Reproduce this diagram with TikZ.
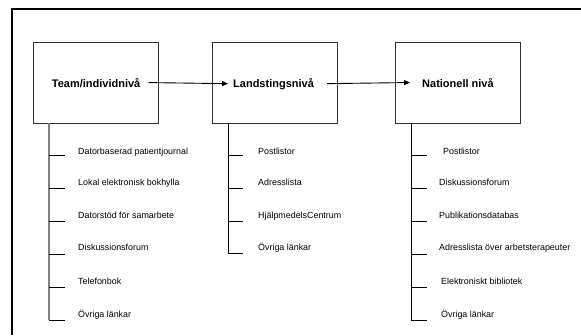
\documentclass[tikz,border=0pt]{standalone}
\usepackage{fontspec}
\setmainfont{Liberation Sans}
\usetikzlibrary{arrows.meta}
\begin{document}
\begin{tikzpicture}[x=1pt,y=-1pt,
  levelbox/.style={draw=black!80,line width=0.9pt,minimum width=125pt,minimum height=81pt,inner sep=0pt,anchor=north west},
  title/.style={font=\fontsize{11}{12}\selectfont\bfseries,inner sep=0pt,anchor=base west},
  item/.style={font=\fontsize{8.9}{10}\selectfont,inner sep=0pt,anchor=base west},
  spine/.style={line width=0.9pt,draw=black},
  tick/.style={line width=0.9pt,draw=black},
  flow/.style={line width=0.9pt,-{Triangle[length=6pt,width=5pt]}}]
\useasboundingbox (0,0) rectangle (581,335);
% outer frame (cropped)
\draw[line width=2pt] (11.5,335) -- (11.5,8.5) -- (581,8.5);
% boxes
\node[levelbox] (b1) at (33,42) {};
\node[levelbox] (b2) at (212,42) {};
\node[levelbox] (b3) at (395,42) {};
% titles
\node[title] (t1) at (51.7,87) {Team/individnivå};
\node[title] (t2) at (233,87) {Landstingsnivå};
\node[title] (t3) at (422,87) {Nationell nivå};
\draw[flow] ([xshift=8pt]t1.east) -- ([xshift=-5pt]t2.west);
\draw[flow] ([xshift=13pt]t2.east) -- ([xshift=-12pt]t3.west);
% column 1
\coordinate (s1) at (49,123);
\coordinate (e1) at (49,320);
\draw[spine,draw=black!50,line width=1.1pt] (s1) -- (e1);
\foreach \y/\b/\txt [count=\i] in {155/154.5/Datorbaserad patientjournal,188/185.5/Lokal elektronisk bokhylla,221/218.5/Datorstöd för samarbete,254/250.5/Diskussionsforum,287/284.5/Telefonbok,320/317.5/Övriga länkar}{
  \coordinate (a1\i) at (49,\y);
  \coordinate (c1\i) at (65,\y);
  \draw[tick] (a1\i) -- (c1\i);
  \node[item] (i1\i) at (78,\b) {\txt};
}
% column 2
\coordinate (s2) at (228,123);
\coordinate (e2) at (228,253);
\draw[spine] (s2) -- (e2);
\foreach \y/\b/\txt [count=\i] in {155/154.5/Postlistor,188/185.5/Adresslista,221/218.5/HjälpmedelsCentrum,253/250.5/Övriga länkar}{
  \coordinate (a2\i) at (228,\y);
  \coordinate (c2\i) at (243,\y);
  \draw[tick] (a2\i) -- (c2\i);
  \node[item] (i2\i) at (258,\b) {\txt};
}
% column 3
\coordinate (s3) at (411,123);
\coordinate (e3) at (411,320);
\draw[spine] (s3) -- (e3);
\foreach \y/\b/\x/\txt [count=\i] in {155/154.5/443/Postlistor,188/185.5/439/Diskussionsforum,221/218.5/439/Publikationsdatabas,254/250.5/439/Adresslista över arbetsterapeuter,287/284.5/441/Elektroniskt bibliotek,320/317.5/441/Övriga länkar}{
  \coordinate (a3\i) at (411,\y);
  \coordinate (c3\i) at (427,\y);
  \draw[tick] (a3\i) -- (c3\i);
  \node[item] (i3\i) at (\x,\b) {\txt};
}
\end{tikzpicture}
\end{document}
